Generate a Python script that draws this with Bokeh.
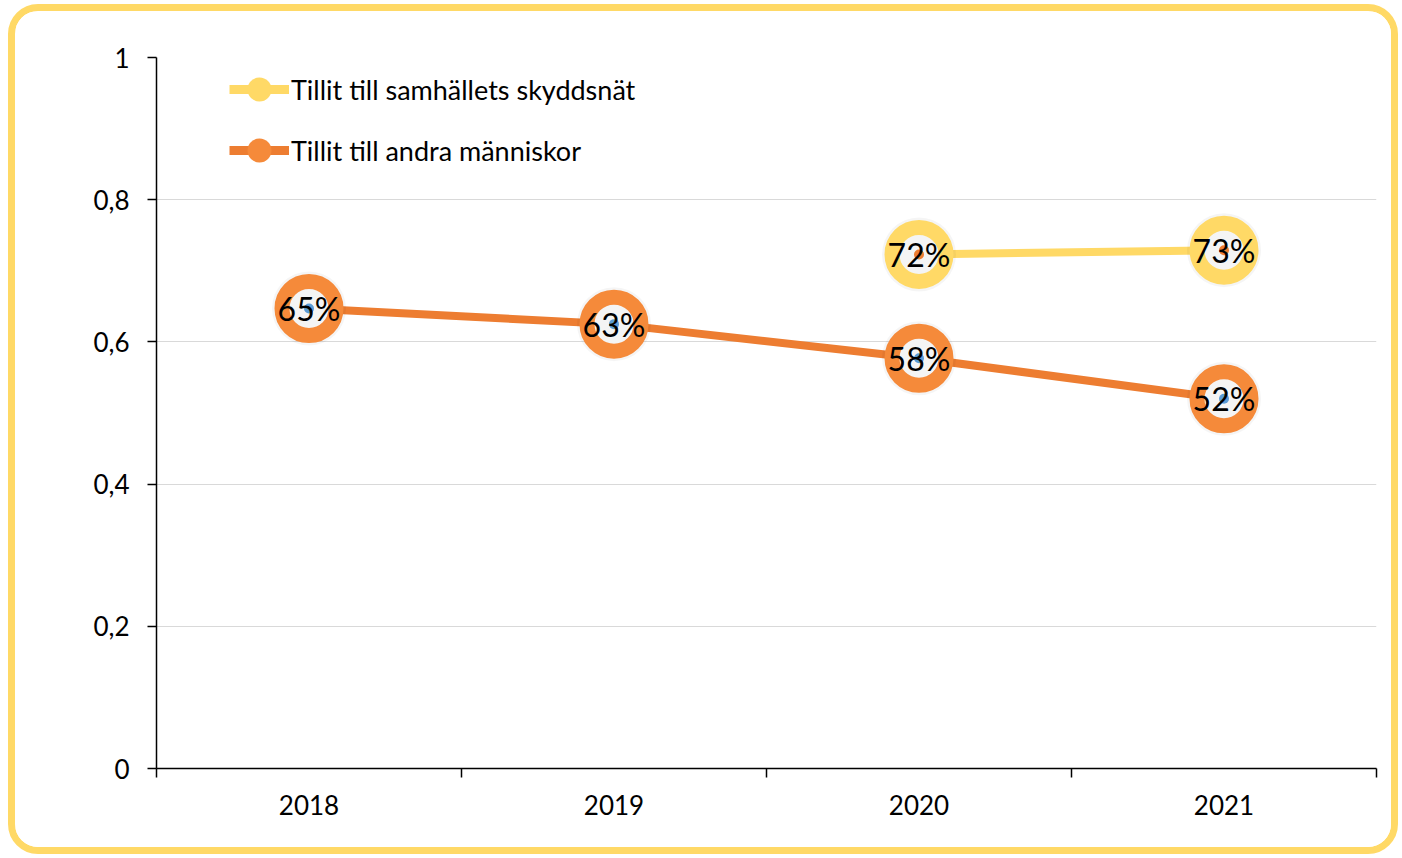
from bokeh.plotting import figure
from bokeh.layouts import column
from bokeh.models import FixedTicker, Legend, LegendItem, ColumnDataSource
from bokeh.core.properties import value
from bokeh.embed import file_html
from bokeh.resources import INLINE

# ---- data ----
years = ["2018", "2019", "2020", "2021"]
andra_x = [1, 2, 3, 4]
andra_vals = [0.647, 0.625, 0.577, 0.520]
andra_labels = ["65%", "63%", "58%", "52%"]
skydd_x = [3, 4]
skydd_vals = [0.723, 0.729]
skydd_labels = ["72%", "73%"]
y_ticks = [0, 0.2, 0.4, 0.6, 0.8, 1.0]
y_tick_labels = ["0", "0,2", "0,4", "0,6", "0,8", "1"]
series_names = ["Tillit till samhällets skyddsnät", "Tillit till andra människor"]

YELLOW = "#FFD966"
ORANGE = "#ED7D31"
RING_ORANGE = "#F58A3A"
FONT = "Lato"

p = figure(width=1376, height=836, x_range=(0.5, 4.5), y_range=(0, 1),
           output_backend="svg", toolbar_location=None,
           min_border_left=141, min_border_right=15, min_border_top=46, min_border_bottom=79)
p.outline_line_color = None
p.xgrid.grid_line_color = None
p.ygrid.grid_line_color = "#d9d9d9"
p.ygrid.grid_line_width = 1
p.background_fill_color = "white"
p.border_fill_color = "white"

# axes
p.yaxis.ticker = FixedTicker(ticks=y_ticks)
p.yaxis.major_label_overrides = {t: l for t, l in zip(y_ticks, y_tick_labels)}
p.yaxis.major_tick_in = 0
p.yaxis.major_tick_out = 9
p.yaxis.minor_tick_line_color = None
p.yaxis.axis_line_color = "black"
p.yaxis.major_tick_line_color = "black"
p.yaxis.axis_line_width = 1.5
p.yaxis.major_tick_line_width = 1.5
p.yaxis.major_label_standoff = 18
p.yaxis.major_label_text_font = FONT
p.yaxis.major_label_text_font_size = "26px"
p.yaxis.major_label_text_color = "black"

p.xaxis.ticker = FixedTicker(ticks=andra_x, minor_ticks=[0.5, 1.5, 2.5, 3.5, 4.5])
p.xaxis.major_label_overrides = {x: y for x, y in zip(andra_x, years)}
p.xaxis.major_tick_line_color = None
p.xaxis.minor_tick_line_color = "black"
p.xaxis.minor_tick_in = 0
p.xaxis.minor_tick_out = 9
p.xaxis.minor_tick_line_width = 1.5
p.xaxis.axis_line_color = "black"
p.xaxis.axis_line_width = 1.5
p.xaxis.major_label_standoff = 17
p.xaxis.major_label_text_font = FONT
p.xaxis.major_label_text_font_size = "26px"
p.xaxis.major_label_text_color = "black"

src_a = ColumnDataSource(dict(x=andra_x, y=andra_vals, t=andra_labels))
src_s = ColumnDataSource(dict(x=skydd_x, y=skydd_vals, t=skydd_labels))

# lines
p.line("x", "y", source=src_s, line_color=YELLOW, line_width=8)
p.line("x", "y", source=src_a, line_color=ORANGE, line_width=8)

# markers: shadow, ring, centre dot, label
for src, ring, dot in [(src_s, YELLOW, ORANGE), (src_a, RING_ORANGE, "#5B9BD5")]:
    p.scatter("x", "y", source=src, size=74, fill_color="#000000", fill_alpha=0.04,
              line_color=None)
    p.scatter("x", "y", source=src, size=54, fill_color="#f4f4f4",
              line_color=ring, line_width=15)
    p.scatter("x", "y", source=src, size=10, fill_color=dot, line_color=None)
    p.text("x", "y", text="t", source=src, text_align="center", text_baseline="middle",
           text_font=value(FONT), text_font_size="32px", text_color="black")

# legend with dummy (off-screen) renderers so glyphs are solid
dummy1 = ColumnDataSource(dict(x=[-10, -9], y=[-10, -10]))
dummy2 = ColumnDataSource(dict(x=[-10, -9], y=[-10, -10]))
l1 = p.line("x", "y", source=dummy1, line_color=YELLOW, line_width=9)
c1 = p.scatter("x", "y", source=dummy1, size=24, fill_color=YELLOW, line_color=None)
l2 = p.line("x", "y", source=dummy2, line_color=ORANGE, line_width=9)
c2 = p.scatter("x", "y", source=dummy2, size=24, fill_color=RING_ORANGE, line_color=None)

legend = Legend(items=[LegendItem(label=series_names[0], renderers=[l1, c1]),
                       LegendItem(label=series_names[1], renderers=[l2, c2])],
                location=(73, 588), padding=0, margin=0, spacing=1,
                glyph_width=60, glyph_height=60, label_height=60, label_standoff=2,
                label_text_font=FONT, label_text_font_size="27px",
                label_text_color="black",
                background_fill_alpha=0, border_line_color=None)
p.add_layout(legend)

layout = column(p, styles={"margin-left": "8px", "margin-top": "4px",
                           "border": "7px solid #FFD966", "border-radius": "30px",
                           "overflow": "hidden", "background": "white"})

open("out.html", "w").write(file_html(layout, INLINE))
